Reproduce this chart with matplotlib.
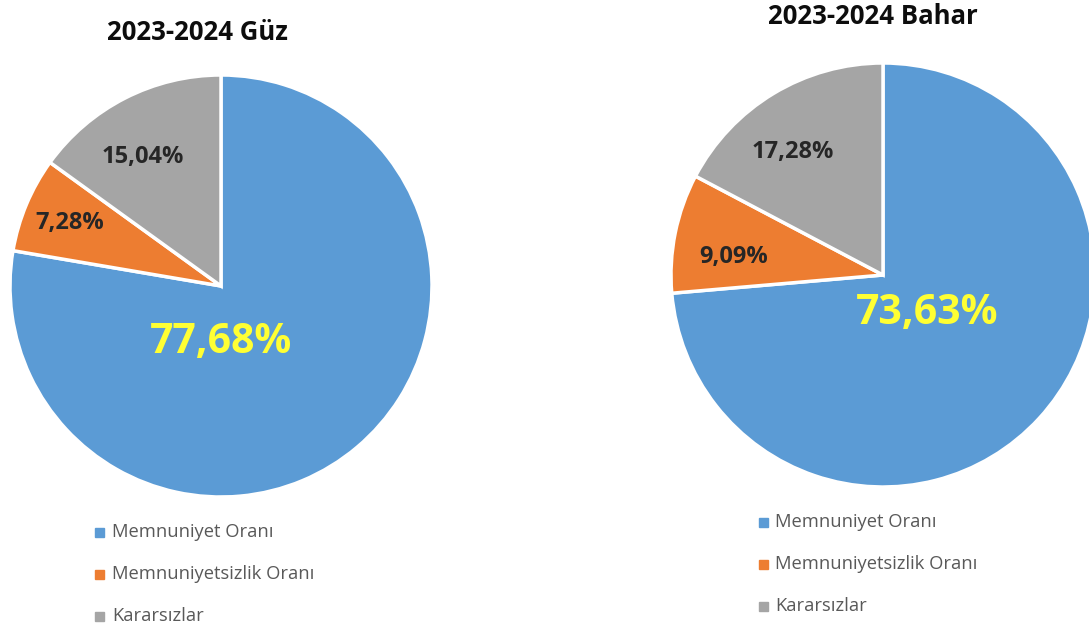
import matplotlib
matplotlib.use("Agg")
import matplotlib.pyplot as plt

categories = ["Memnuniyet Oranı", "Memnuniyetsizlik Oranı", "Kararsızlar"]
titles = ["2023-2024 Güz", "2023-2024 Bahar"]
guz_values = [77.68, 7.28, 15.04]
bahar_values = [73.63, 9.09, 17.28]

colors = ["#5B9BD5", "#ED7D31", "#A5A5A5"]
label_colors = ["#FFFF33", "#262626", "#262626"]

W, H = 1089, 627
fig = plt.figure(figsize=(W / 100, H / 100), dpi=100)
fig.patch.set_facecolor("white")

# layout: (cx, cy, r) in pixels, label offsets in radius units, title pos, legend pos
layouts = [
    dict(c=(221, 286), r=211,
         lab=[(0.0, -0.27), (-0.716, 0.30), (-0.37, 0.61)],
         title=(197, 32), leg=(100, 532), legstep=42),
    dict(c=(883, 275), r=212,
         lab=[(0.21, -0.18), (-0.705, 0.085), (-0.425, 0.58)],
         title=(873, 17), leg=(763, 522), legstep=42),
]

for values, title, L in zip([guz_values, bahar_values], titles, layouts):
    cx, cy, r = L["c"][0], L["c"][1], L["r"]
    ax = fig.add_axes([(cx - r) / W, (H - cy - r) / H, 2 * r / W, 2 * r / H])
    wedges, _ = ax.pie(values, colors=colors, startangle=90, counterclock=False,
                       radius=1.0,
                       wedgeprops=dict(edgecolor="white", linewidth=2.5))
    for w in wedges:
        w.set_clip_on(False)
    ax.set_xlim(-1, 1)
    ax.set_ylim(-1, 1)
    ax.set_aspect("equal")
    ax.axis("off")
    for i, (v, (dx, dy)) in enumerate(zip(values, L["lab"])):
        txt = f"{v:.2f}%".replace(".", ",")
        big = i == 0
        ax.text(dx, dy, txt, ha="center", va="center",
                fontsize=29.5 if big else 17, fontweight="bold",
                color=label_colors[i], family="Open Sans")
    fig.text(L["title"][0] / W, 1 - L["title"][1] / H, title, ha="center",
             va="center", fontsize=18.5, fontweight="bold", color="#0D0D0D",
             family="Open Sans")
    lx, ly = L["leg"]
    for k, (cat, col) in enumerate(zip(categories, colors)):
        yy = ly + k * L["legstep"]
        fig.patches.append(plt.Rectangle(((lx - 4.5) / W, 1 - (yy + 4.5) / H), 9 / W, 9 / H,
                                         transform=fig.transFigure, color=col))
        fig.text((lx + 12) / W, 1 - yy / H, cat, ha="left", va="center",
                 fontsize=13.2, color="#595959", family="Open Sans")

fig.savefig("out.png", dpi=100, facecolor="white")
